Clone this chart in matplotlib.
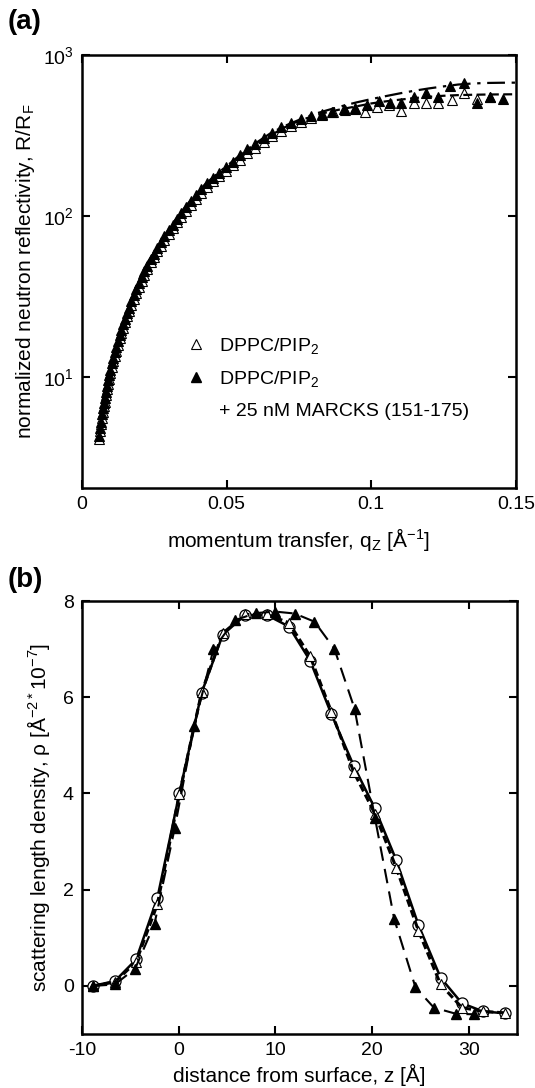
import matplotlib
matplotlib.use("Agg")
import matplotlib.pyplot as plt
from matplotlib.lines import Line2D
from matplotlib.ticker import NullLocator, FixedLocator, LogFormatterSciNotation

plt.rcParams['font.family'] = ['Liberation Sans', 'DejaVu Sans']
plt.rcParams['mathtext.fontset'] = 'custom'
plt.rcParams['mathtext.rm'] = 'Liberation Sans'
plt.rcParams['mathtext.it'] = 'Liberation Sans:italic'
plt.rcParams['mathtext.bf'] = 'Liberation Sans:bold'
plt.rcParams['axes.unicode_minus'] = False

# ---- panel (a): normalized reflectivity vs q ----
q_open = [0.0060, 0.0063, 0.0066, 0.0069, 0.0072, 0.0075, 0.0078, 0.0082, 0.0086, 0.0090,
          0.0094, 0.0098, 0.0103, 0.0108, 0.0113, 0.0118, 0.0124, 0.0130, 0.0136, 0.0142,
          0.0149, 0.0156, 0.0163, 0.0171, 0.0179, 0.0188, 0.0197, 0.0206, 0.0216, 0.0226,
          0.0237, 0.0248, 0.0260, 0.0272, 0.0285, 0.0299, 0.0313, 0.0328, 0.0343, 0.0360,
          0.0377, 0.0395, 0.0413, 0.0433, 0.0454, 0.0475, 0.0498, 0.0521, 0.0546, 0.0572,
          0.0599, 0.0628, 0.0658, 0.0689, 0.0721, 0.0756, 0.0792, 0.0829, 0.0869, 0.0910,
          0.0945, 0.0980, 0.1021, 0.1063, 0.1104, 0.1147, 0.1190, 0.1230, 0.1280, 0.1320,
          0.1366, 0.1412]
r_open = [4.1, 4.6, 5.1, 5.6, 6.1, 6.6, 7.0, 7.7, 8.4, 9.1,
          9.8, 10.6, 11.6, 12.6, 13.6, 14.6, 15.9, 17.4, 18.8, 20.3,
          22.0, 23.8, 25.6, 28.0, 30.6, 33.5, 36.5, 39.5, 43.0, 47.0,
          51.5, 55.5, 60.5, 65.5, 71.0, 77.5, 84.0, 91.5, 99.0, 108,
          117, 128, 139, 151, 164, 176, 190, 206, 224, 245,
          265, 290, 312, 338, 362, 386, 405, 425, 440, 455,
          460, 441, 476, 490, 451, 500, 506, 506, 525, 578,
          535, 546]

q_fill = q_open[:58] + [0.0864, 0.0905, 0.0945, 0.0985, 0.1025, 0.1066, 0.1104, 0.1147,
                        0.1190, 0.1230, 0.1273, 0.1320, 0.1366, 0.1412, 0.1456]
r_fill = [4.3, 4.8, 5.3, 5.9, 6.4, 6.9, 7.4, 8.1, 8.8, 9.6,
          10.3, 11.1, 12.2, 13.2, 14.3, 15.4, 16.8, 18.2, 19.7, 21.3,
          23.1, 25.0, 27.0, 29.5, 32.2, 35.2, 38.4, 41.6, 45.3, 49.3,
          54.0, 58.5, 63.5, 69.0, 75.0, 81.5, 88.5, 96.0, 104, 114,
          124, 135, 147, 160, 173, 186, 201, 218, 238, 259,
          281, 305, 330, 355, 378, 400, 420, 428,
          445, 460, 467, 489, 520, 506, 506, 546, 578, 546, 641, 667, 506, 546, 533]

q_fit = [0.0060, 0.0070, 0.0080, 0.0090, 0.0100, 0.0120, 0.0140, 0.0160, 0.0180, 0.0200,
         0.0225, 0.0250, 0.0275, 0.0300, 0.0325, 0.0350, 0.0375, 0.0400, 0.0425, 0.0450,
         0.0475, 0.0500, 0.0550, 0.0600, 0.0650, 0.0700, 0.0750, 0.0800, 0.0850, 0.0900,
         0.0950, 0.1000, 0.1050, 0.1100, 0.1150, 0.1200, 0.1250, 0.1300, 0.1350, 0.1400,
         0.1450, 0.1500]
fit_open = [4.2, 5.9, 7.4, 9.2, 11.2, 15.5, 20.5, 26, 33, 40,
            49, 58, 68, 80, 93, 107, 122, 137, 153, 168,
            183, 198, 235, 275, 315, 355, 390, 418, 442, 462,
            480, 500, 515, 528, 540, 550, 558, 563, 566, 568,
            569, 570]
fit_fill = [4.3, 6.1, 7.6, 9.5, 11.5, 16.0, 21.2, 27, 34, 41.5,
            51, 60, 70.5, 83, 96, 110, 125, 141, 157, 172,
            188, 204, 242, 283, 325, 362, 395, 428, 455, 482,
            508, 532, 555, 578, 600, 620, 638, 655, 665, 670,
            672, 673]

# ---- panel (b): scattering length density profiles ----
z_prof = [-8.9, -6.6, -4.4, -2.2, 0.07, 2.37, 4.56, 6.9, 9.1, 11.4,
          13.6, 15.8, 18.1, 20.3, 22.5, 24.8, 27.1, 29.3, 31.5, 33.8]
rho_circ = [0.0, 0.1, 0.55, 1.83, 4.0, 6.09, 7.3, 7.71, 7.71, 7.47,
            6.76, 5.65, 4.58, 3.69, 2.62, 1.27, 0.17, -0.36, -0.53, -0.57]
rho_open = [0.0, 0.08, 0.5, 1.7, 3.98, 6.1, 7.33, 7.72, 7.72, 7.55,
            6.85, 5.7, 4.45, 3.58, 2.46, 1.15, 0.03, -0.45, -0.53, -0.56]
z_fill = [-8.9, -6.6, -4.5, -2.5, -0.4, 1.6, 3.6, 5.8, 8.0, 10.0,
          12.0, 14.05, 16.1, 18.2, 20.3, 22.3, 24.5, 26.4, 28.7, 30.6]
rho_fill = [0.0, 0.03, 0.36, 1.29, 3.29, 5.4, 7.0, 7.6, 7.75, 7.78,
            7.74, 7.57, 7.01, 5.76, 3.5, 1.39, -0.03, -0.45, -0.58, -0.59]


def style_axes(ax):
    for sp in ax.spines.values():
        sp.set_linewidth(1.8)
    ax.tick_params(which='both', direction='in', top=True, right=True,
                   length=6, width=1.5, labelsize=14, pad=6)


fig = plt.figure(figsize=(5.35, 10.88), dpi=100)

ax1 = fig.add_axes([0.1533, 0.5515, 0.811, 0.398])
ax1.set_yscale('log')
ax1.plot(q_open, r_open, ls='none', marker='^', ms=7, mfc='white', mec='black', mew=0.8)
ax1.plot(q_fill, r_fill, ls='none', marker='^', ms=7, mfc='black', mec='black', mew=0.8)
ax1.plot(q_fit, fit_open, color='black', lw=1.6, ls=(0, (4, 2)), zorder=3)
ax1.plot(q_fit, fit_fill, color='black', lw=1.6, ls=(0, (8, 3, 1.5, 3)), zorder=3)
ax1.set_xlim(0, 0.15)
ax1.set_ylim(2.05, 1000)
ax1.xaxis.set_major_locator(FixedLocator([0, 0.05, 0.1, 0.15]))
ax1.set_xticklabels(['0', '0.05', '0.1', '0.15'])
ax1.yaxis.set_major_locator(FixedLocator([10, 100, 1000]))
ax1.yaxis.set_major_formatter(LogFormatterSciNotation())
ax1.yaxis.set_minor_locator(NullLocator())
style_axes(ax1)
ax1.set_xlabel('momentum transfer, q$_\\mathrm{Z}$ [Å$^{-1}$]', fontsize=15, labelpad=9)
ax1.set_ylabel('normalized neutron reflectivity, R/R$_\\mathrm{F}$', fontsize=15, labelpad=4)

handles = [Line2D([], [], ls='none', marker='^', ms=7.5, mfc='white', mec='black', mew=0.8),
           Line2D([], [], ls='none', marker='^', ms=7.5, mfc='black', mec='black'),
           Line2D([], [], ls='none')]
labels = ['DPPC/PIP$_2$', 'DPPC/PIP$_2$', '+ 25 nM MARCKS (151-175)']
ax1.legend(handles, labels, loc='upper left', bbox_to_anchor=(0.24, 0.352),
           frameon=False, fontsize=14, handlelength=1.0, handletextpad=0.7,
           labelspacing=0.68, borderpad=0, borderaxespad=0)

ax2 = fig.add_axes([0.1533, 0.0496, 0.813, 0.398])
ax2.plot(z_prof, rho_circ, color='black', lw=1.8, ls='-', marker='o', ms=8,
         mfc='white', mec='black', mew=0.9)
ax2.plot(z_prof, rho_open, color='black', lw=2.2, ls=(0, (2.5, 1.2)), marker='^', ms=7.5,
         mfc='white', mec='black', mew=0.8)
ax2.plot(z_fill, rho_fill, color='black', lw=1.5, ls=(0, (7, 4)), marker='^', ms=7.5,
         mfc='black', mec='black')
ax2.set_xlim(-10, 35)
ax2.set_ylim(-1, 8)
ax2.set_xticks([-10, 0, 10, 20, 30])
ax2.set_yticks([0, 2, 4, 6, 8])
style_axes(ax2)
ax2.set_xlabel('distance from surface, z [Å]', fontsize=15, labelpad=3)
ax2.set_ylabel('scattering length density, ρ [Å$^{-2*}$10$^{-7}$]', fontsize=15, labelpad=8)

fig.text(0.015, 1 - 22 / 1088, '(a)', fontsize=20, fontweight='bold', va='center')
fig.text(0.015, 1 - 580 / 1088, '(b)', fontsize=20, fontweight='bold', va='center')

fig.savefig('out.png', dpi=100)
